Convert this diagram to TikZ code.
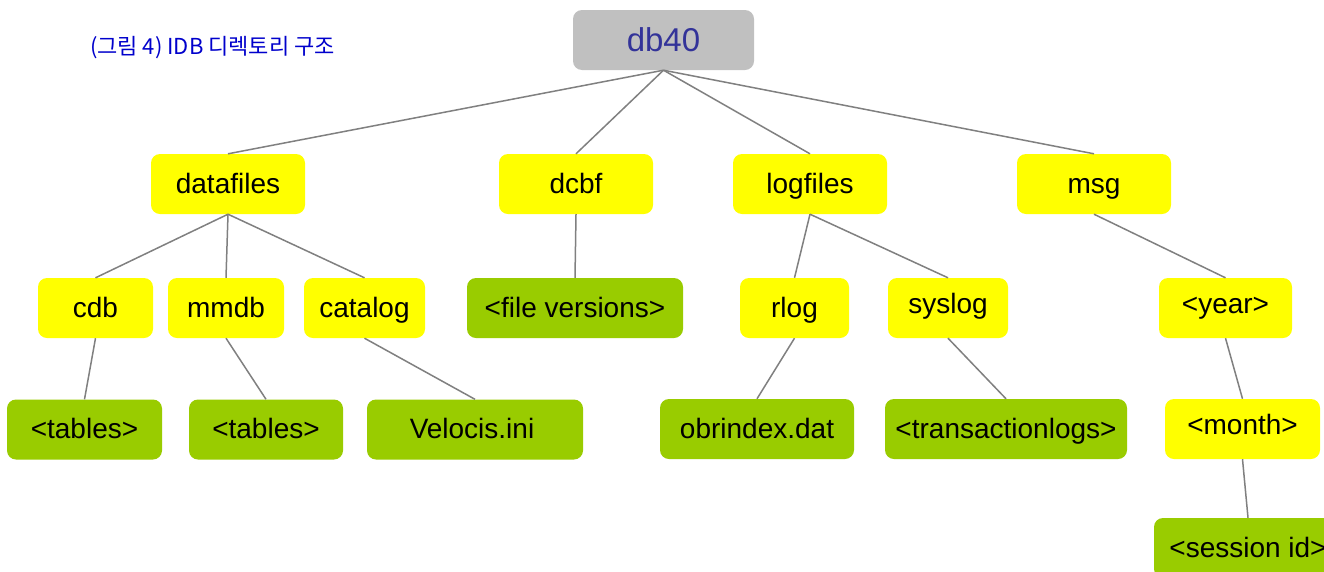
\documentclass[tikz,border=0pt]{standalone}
\usepackage{fontspec}
\setmainfont{Liberation Sans}
\newfontfamily\krfont{Noto Sans CJK KR}
\definecolor{boxyellow}{HTML}{FFFF00}
\definecolor{boxgreen}{HTML}{99CC00}
\definecolor{boxgray}{HTML}{C0C0C0}
\definecolor{linegray}{HTML}{808080}
\definecolor{rootblue}{HTML}{333399}
\definecolor{titleblue}{HTML}{0000CC}
\tikzset{
  base/.style={rectangle, rounded corners=9pt, inner sep=0pt, minimum height=60pt,
    font=\fontsize{28}{32}\selectfont, text=black, text height=22pt, text depth=4pt},
  ybox/.style={base, fill=boxyellow},
  gbox/.style={base, fill=boxgreen},
  rootbox/.style={base, fill=boxgray, text=rootblue, font=\fontsize{33}{38}\selectfont,
    text height=24pt, text depth=2pt},
  conn/.style={draw=linegray, line width=1.5pt},
}
\begin{document}
\begin{tikzpicture}[x=1pt,y=-1pt]
\useasboundingbox (0,0) rectangle (1324,571);
\clip (0,0) rectangle (1324,571);
\fill[white] (0,0) rectangle (1324,571);
\node[text=titleblue, font=\krfont\fontsize{22}{26}\selectfont, inner sep=0pt] (title) at (212.5,48) {(그림 4) IDB 디렉토리 구조};
\node[rootbox, minimum width=181pt] (db) at (663.5,40) {db40};
\node[ybox, minimum width=154pt] (datafiles) at (228,184) {datafiles};
\node[ybox, minimum width=154pt] (dcbf) at (576,184) {dcbf};
\node[ybox, minimum width=154pt] (logfiles) at (810,184) {logfiles};
\node[ybox, minimum width=154pt] (msg) at (1094,184) {msg};
\node[ybox, minimum width=115pt] (cdb) at (95.5,308) {cdb};
\node[ybox, minimum width=116pt] (mmdb) at (226,308) {mmdb};
\node[ybox, minimum width=121pt] (catalog) at (364.5,308) {catalog};
\node[gbox, minimum width=216pt] (filever) at (575,308) {<file versions>};
\node[ybox, minimum width=109pt] (rlog) at (794.5,308) {rlog};
\node[ybox, minimum width=120pt] (syslog) at (948,308) {\raisebox{4pt}{syslog}};
\node[ybox, minimum width=133pt] (year) at (1225.5,308) {\raisebox{4pt}{<year>}};
\node[gbox, minimum width=155pt] (tables1) at (84.5,429.5) {<tables>};
\node[gbox, minimum width=154pt] (tables2) at (266,429.5) {<tables>};
\node[gbox, minimum width=216pt] (velocis) at (475,429.5) {\hspace*{-6pt}Velocis.ini};
\node[gbox, minimum width=194pt] (obrindex) at (757,429) {obrindex.dat};
\node[gbox, minimum width=242pt] (translogs) at (1006,429) {<transactionlogs>};
\node[ybox, minimum width=155pt] (month) at (1242.5,429) {\raisebox{4pt}{<month>}};
\node[gbox, minimum width=188pt] (session) at (1248,548) {<session id>};
\draw[conn] (db.south) -- (datafiles.north);
\draw[conn] (db.south) -- (dcbf.north);
\draw[conn] (db.south) -- (logfiles.north);
\draw[conn] (db.south) -- (msg.north);
\draw[conn] (datafiles.south) -- (cdb.north);
\draw[conn] (datafiles.south) -- (mmdb.north);
\draw[conn] (datafiles.south) -- (catalog.north);
\draw[conn] (dcbf.south) -- (filever.north);
\draw[conn] (logfiles.south) -- (rlog.north);
\draw[conn] (logfiles.south) -- (syslog.north);
\draw[conn] (msg.south) -- (year.north);
\draw[conn] (cdb.south) -- (tables1.north);
\draw[conn] (mmdb.south) -- (tables2.north);
\draw[conn] (catalog.south) -- (velocis.north);
\draw[conn] (rlog.south) -- (obrindex.north);
\draw[conn] (syslog.south) -- (translogs.north);
\draw[conn] (year.south) -- (month.north);
\draw[conn] (month.south) -- (session.north);
\end{tikzpicture}
\end{document}
